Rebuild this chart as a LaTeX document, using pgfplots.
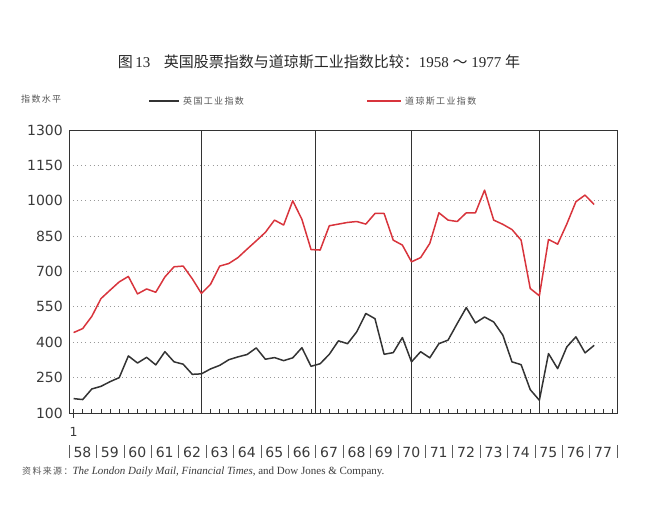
\documentclass[border=0pt]{standalone}
\usepackage{pgfplots}
\pgfplotsset{compat=1.18}
\usepackage{pgfplotstable}
\usepackage{fontspec}
\setmainfont{DejaVu Sans}
\newfontfamily\cjk{Noto Sans CJK SC}
\newfontfamily\cjksp[LetterSpace=15]{Noto Sans CJK SC}
\newfontfamily\serif{Liberation Serif}
\definecolor{djred}{HTML}{D8343C}
\definecolor{ukblack}{HTML}{333333}
\definecolor{txt}{HTML}{3A3A3A}
\definecolor{lbl}{HTML}{555555}

\pgfplotstableread{
x uk dj
0.5 161 441
1.5 157 458
2.5 202 510
3.5 213 585
4.5 233 621
5.5 250 656
6.5 342 679
7.5 312 605
8.5 336 626
9.5 304 612
10.5 360 677
11.5 317 720
12.5 307 723
13.5 264 669
14.5 266 607
15.5 287 646
16.5 302 723
17.5 326 734
18.5 338 759
19.5 348 795
20.5 376 830
21.5 328 866
22.5 335 918
23.5 322 897
24.5 334 1000
25.5 377 921
26.5 298 793
27.5 309 791
28.5 349 894
29.5 406 901
30.5 394 908
31.5 444 912
32.5 522 901
33.5 500 946
34.5 349 946
35.5 356 833
36.5 420 812
37.5 317 741
38.5 360 759
39.5 334 819
40.5 394 949
41.5 409 918
42.5 479 912
43.5 547 949
44.5 482 949
45.5 507 1045
46.5 486 918
47.5 430 900
48.5 317 878
49.5 305 833
50.5 199 628
51.5 154 597
52.5 352 836
53.5 288 816
54.5 380 901
55.5 423 996
56.5 355 1024
57.5 387 984
}\data

\begin{document}
\begin{tikzpicture}[x=1pt,y=1pt]
\path (0,0) rectangle (655,515);
\begin{axis}[
  at={(69pt,102pt)}, anchor=south west,
  scale only axis, width=548pt, height=283pt,
  xmin=0, xmax=60, ymin=100, ymax=1300,
  ytick={100,250,...,1300},
  xtick={0.5,1.5,...,59.5}, xticklabels={},
  xtick pos=left, ytick pos=left,
  tick align=inside, major tick length=4pt,
  xtick style={ukblack, line width=0.7pt},
  ytick style={draw=none},
  ymajorgrids,
  grid style={gray!80, line width=0.8pt, dash pattern=on 0.9pt off 3.2pt},
  axis line style={ukblack, line width=0.9pt},
  yticklabel style={font=\fontsize{14}{16}\selectfont, text=txt, anchor=east, inner sep=0pt, xshift=-6pt},
  /pgf/number format/1000 sep={},
  /pgf/number format/assume math mode=true,
]
\draw[ukblack, line width=0.9pt] (axis cs:14.5,100) -- (axis cs:14.5,1300);
\draw[ukblack, line width=0.9pt] (axis cs:27,100) -- (axis cs:27,1300);
\draw[ukblack, line width=0.9pt] (axis cs:37.5,100) -- (axis cs:37.5,1300);
\draw[ukblack, line width=0.9pt] (axis cs:51.5,100) -- (axis cs:51.5,1300);
\addplot[ukblack, line width=1.5pt, line join=round] table[x=x, y=uk]{\data};
\addplot[djred, line width=1.5pt, line join=round] table[x=x, y=dj]{\data};
\end{axis}
% first tick cross and month label
\draw[ukblack, line width=0.7pt] (73.6,97) -- (73.6,106);
\node[font=\fontsize{12.5}{14}\selectfont, text=txt] at (73.6,83) {1};
% year separators and labels
\foreach \i in {0,...,20} {
  \draw[ukblack!80, line width=0.6pt] ({69+27.4*\i},57.5) -- ({69+27.4*\i},70.5);
}
\foreach \i [evaluate=\i as \yy using int(58+\i)] in {0,...,19} {
  \node[font=\fontsize{14}{16}\selectfont, text=txt] at ({68.8+27.4*(\i+0.5)},63) {\yy};
}
% title
\node[text=black!85, font=\fontsize{15}{18}\selectfont] at (319,453)
  {{\cjk 图}\,{\serif 13}\hspace{0.9em}{\cjk 英国股票指数与道琼斯工业指数比较：}{\serif 1958 }{\cjk ～}{\serif\ 1977 }{\cjk 年}};
% legend
\node[anchor=west, text=lbl, font=\fontsize{9}{11}\selectfont, inner sep=0pt] at (21,416) {\cjksp 指数水平};
\draw[ukblack, line width=1.5pt] (149,414) -- (179,414);
\node[anchor=west, text=lbl, font=\fontsize{9}{11}\selectfont, inner sep=0pt] at (183,414) {\cjksp 英国工业指数};
\draw[djred, line width=1.5pt] (367,414) -- (401,414);
\node[anchor=west, text=lbl, font=\fontsize{9}{11}\selectfont, inner sep=0pt] at (405,414) {\cjksp 道琼斯工业指数};
% source
\node[anchor=west, text=txt, font=\fontsize{11}{13}\selectfont, inner sep=0pt] at (22,43)
  {{\cjksp\color{lbl}\fontsize{9}{11}\selectfont 资料来源：}{\serif\itshape The London Daily Mail, Financial Times}{\serif , and Dow Jones \& Company.}};
\end{tikzpicture}
\end{document}
